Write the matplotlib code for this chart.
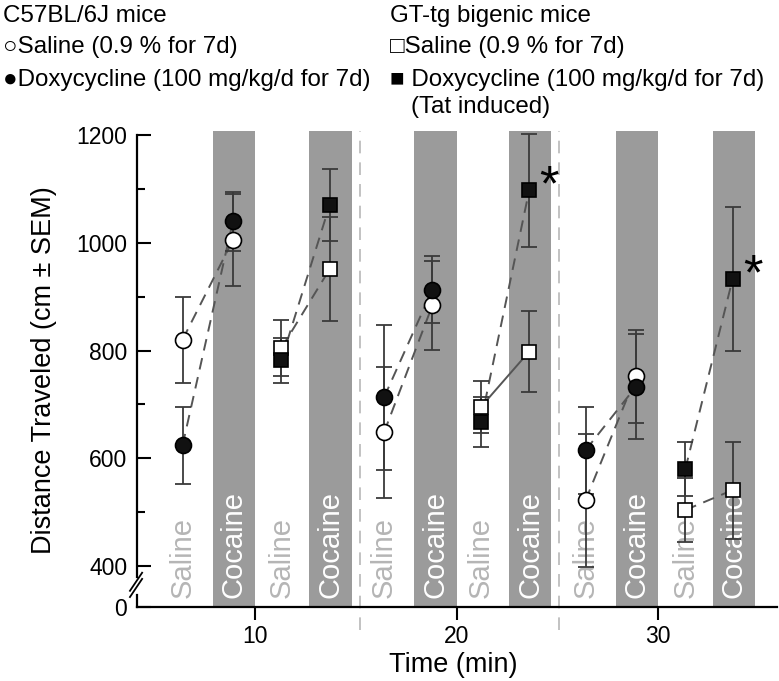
import matplotlib
matplotlib.use("Agg")
from matplotlib import pyplot as plt

plt.rcParams['font.family'] = ['Liberation Sans', 'DejaVu Sans']

# x positions (min) of the saline / cocaine readings in each block
sal_x = [6.4, 11.3, 16.4, 21.2, 26.4, 31.35]
coc_x = [8.9, 13.7, 18.8, 23.6, 28.9, 33.7]
band_left = [7.9, 12.7, 17.9, 22.6, 27.9, 32.7]
band_width = 2.1
separators = [15.2, 25.1]

# C57BL/6J mice -> blocks 0, 2, 4 ; GT-tg mice -> blocks 1, 3, 5
wt_blocks = [0, 2, 4]
tg_blocks = [1, 3, 5]

wt_sal_sal = [820, 648, 522]
wt_sal_coc = [1005, 884, 752]
wt_sal_sal_err = [80, 121, 123]
wt_sal_coc_err = [86, 83, 86]

wt_dox_sal = [624, 713, 615]
wt_dox_coc = [1040, 913, 733]
wt_dox_sal_err = [72, 135, 81]
wt_dox_coc_err = [55, 62, 98]

tg_sal_sal = [804, 695, 504]
tg_sal_coc = [951, 798, 541]
tg_sal_sal_err = [52, 48, 59]
tg_sal_coc_err = [96, 75, 90]

tg_dox_sal = [782, 667, 580]
tg_dox_coc = [1070, 1097, 933]
tg_dox_sal_err = [42, 46, 50]
tg_dox_coc_err = [66, 105, 133]

star_blocks = [3, 5]

fig = plt.figure(figsize=(7.79, 6.81), dpi=100)
ax = fig.add_axes([137/779, 1-607/681, 640/779, 476/681])
ax.set_xlim(4.14, 35.9)
ax.set_ylim(324, 1207.4)

for l in band_left:
    ax.axvspan(l, l + band_width, color='#9b9b9b', lw=0, zorder=0)
for s in separators:
    ax.axvline(s, ymin=-0.048, ymax=1, color='#bdbdbd', lw=1.3,
               ls=(0, (7, 5)), clip_on=False, zorder=1)

for i in range(6):
    ax.text(sal_x[i], 341, 'Saline', rotation=90, ha='center', va='bottom',
            color='#b5b5b5', fontsize=21, zorder=1)
    ax.text(band_left[i] + band_width/2, 341, 'Cocaine', rotation=90,
            ha='center', va='bottom', color='white', fontsize=21, zorder=1)


def draw_series(blocks, sal, coc, sal_err, coc_err, marker, face, solid=()):
    for k, b in enumerate(blocks):
        ls = '-' if b in solid else (0, (6, 4))
        ax.plot([sal_x[b], coc_x[b]], [sal[k], coc[k]], color='#555555',
                lw=1.4, ls=ls, zorder=2)
        ax.errorbar([sal_x[b], coc_x[b]], [sal[k], coc[k]],
                    yerr=[sal_err[k], coc_err[k]], fmt='none',
                    ecolor='#3a3a3a', elinewidth=1.3, capsize=6,
                    capthick=1.3, zorder=3)
        ax.plot([sal_x[b], coc_x[b]], [sal[k], coc[k]], ls='none',
                marker=marker, ms=11.5 if marker == 'o' else 10.5,
                mfc=face, mec='black', mew=1.2, zorder=4)


draw_series(wt_blocks, wt_sal_sal, wt_sal_coc, wt_sal_sal_err, wt_sal_coc_err, 'o', 'white')
draw_series(wt_blocks, wt_dox_sal, wt_dox_coc, wt_dox_sal_err, wt_dox_coc_err, 'o', '#111111')
draw_series(tg_blocks, tg_sal_sal, tg_sal_coc, tg_sal_sal_err, tg_sal_coc_err, 's', 'white', solid=(3,))
draw_series(tg_blocks, tg_dox_sal, tg_dox_coc, tg_dox_sal_err, tg_dox_coc_err, 's', '#111111')

for b in star_blocks:
    k = tg_blocks.index(b)
    ax.text(coc_x[b] + 0.5, tg_dox_coc[k] + 5, '*', fontsize=36,
            ha='left', va='center', zorder=5)

# axes
ax.spines['top'].set_visible(False)
ax.spines['right'].set_visible(False)
ax.spines['left'].set_visible(False)
ax.spines['bottom'].set_linewidth(1.6)
top_frac = (1200 - 324) / (1207.4 - 324)
ax.plot([0, 0], [0, 0.026], transform=ax.transAxes, color='black', lw=1.6, clip_on=False)
ax.plot([0, 0], [0.062, top_frac], transform=ax.transAxes, color='black', lw=1.6, clip_on=False)
ax.plot([-0.011, 0.008], [0.021, 0.059], transform=ax.transAxes, color='black', lw=1.3, clip_on=False)
ax.plot([-0.011, 0.008], [0.034, 0.072], transform=ax.transAxes, color='black', lw=1.3, clip_on=False)

ax.set_yticks([324, 400, 600, 800, 1000, 1200])
ax.set_yticklabels(['0', '400', '600', '800', '1000', '1200'])
ax.set_yticks([500, 700, 900, 1100], minor=True)
ax.tick_params(axis='y', which='major', direction='in', length=10, width=1.5,
               labelsize=16.5, pad=7)
ax.tick_params(axis='y', which='minor', direction='in', length=6, width=1.5)
ax.set_xticks([10, 20, 30])
ax.tick_params(axis='x', direction='out', length=9, width=1.5, labelsize=16.5, pad=4)

fig.text(44/779, 1-370/681, 'Distance Traveled (cm ± SEM)', rotation=90,
         ha='center', va='center', fontsize=19.5)
fig.text(453/779, 1-665/681, 'Time (min)', ha='center', va='center', fontsize=19.5)

# legend block
fs = 17.4
fig.text(3/779, 1-16/681, 'C57BL/6J mice', fontsize=fs, va='center')
fig.text(3/779, 1-47/681, '○Saline (0.9 % for 7d)', fontsize=fs, va='center')
fig.text(3/779, 1-80/681, '●Doxycycline (100 mg/kg/d for 7d)', fontsize=fs, va='center')
fig.text(390/779, 1-16/681, 'GT-tg bigenic mice', fontsize=fs, va='center')
fig.text(390/779, 1-47/681, '□Saline (0.9 % for 7d)', fontsize=fs, va='center')
fig.text(390/779, 1-80/681, '■ Doxycycline (100 mg/kg/d for 7d)', fontsize=fs, va='center')
fig.text(411/779, 1-107/681, '(Tat induced)', fontsize=fs, va='center')

fig.savefig('out.png', dpi=100)
